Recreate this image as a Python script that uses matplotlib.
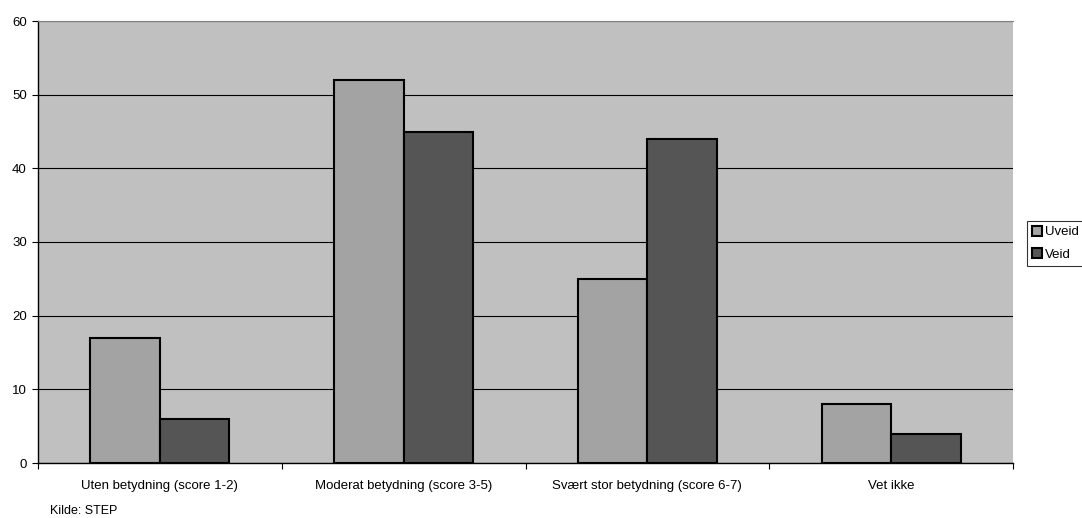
import matplotlib
matplotlib.use("Agg")
import matplotlib.pyplot as plt
import numpy as np

plt.rcParams['font.family'] = ['Liberation Sans', 'DejaVu Sans']

categories = ['Uten betydning (score 1-2)', 'Moderat betydning (score 3-5)',
              'Svært stor betydning (score 6-7)', 'Vet ikke']
uveid = [17, 52, 25, 8]
veid = [6, 45, 44, 4]

fig = plt.figure(figsize=(10.82, 5.18), dpi=100)
ax = fig.add_axes([38/1082, 55/518, 975/1082, 442/518])
ax.set_facecolor('#C0C0C0')

x = np.arange(len(categories))
w = 0.285
ax.bar(x - w/2, uveid, w, color='#A3A3A3', edgecolor='black', linewidth=1.5, label='Uveid', zorder=3)
ax.bar(x + w/2, veid, w, color='#555555', edgecolor='black', linewidth=1.5, label='Veid', zorder=3)

ax.set_xlim(-0.5, len(categories) - 0.5)
ax.set_ylim(0, 60)
ax.set_yticks(range(0, 61, 10))
ax.yaxis.grid(True, color='black', linewidth=0.8, zorder=1)
ax.set_axisbelow(True)

# category labels centred between separator ticks
ax.set_xticks(np.arange(-0.5, len(categories)), minor=False)
ax.set_xticklabels([])
ax.set_xticks(x, minor=True)
ax.set_xticklabels(categories, minor=True)
ax.tick_params(axis='x', which='minor', length=0, pad=12, labelsize=9.5)
ax.tick_params(axis='x', which='major', length=4, direction='out')
ax.tick_params(axis='y', length=4, labelsize=9.5, pad=4)

for s in ['left', 'bottom']:
    ax.spines[s].set_linewidth(1.0)
ax.spines['top'].set_color('#808080')
ax.spines['right'].set_visible(False)

leg = ax.legend(loc='center left', bbox_to_anchor=(1027/975 - 38/975, 0.497), fontsize=9.5,
                frameon=True, fancybox=False, edgecolor='black', handlelength=0.8,
                handleheight=0.8, handletextpad=0.2, borderpad=0.35, labelspacing=0.75,
                borderaxespad=0)
leg.get_frame().set_linewidth(0.8)

fig.text(50/1082, 1 - 511/518, 'Kilde: STEP', fontsize=9, va='center', ha='left')

fig.savefig('out.png', dpi=100)
